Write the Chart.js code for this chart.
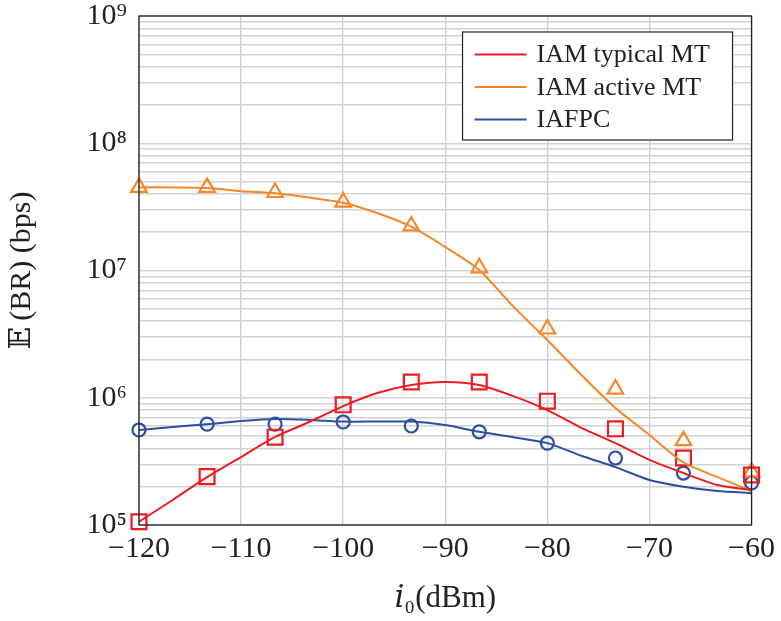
<!DOCTYPE html>
<html>
<head>
<meta charset="utf-8">
<script src="https://cdn.jsdelivr.net/npm/chart.js@4/dist/chart.umd.min.js"></script>
<style>
  html, body { margin: 0; padding: 0; background: #fff; }
  #wrap { width: 781px; height: 621px; }
</style>
</head>
<body>
<div id="wrap"><canvas id="rateChart"></canvas></div>
<script>
// x positions of the simulated marks and of the analytic curves (dBm)
const markX = [-120, -113.33, -106.67, -100, -93.33, -86.67, -80, -73.33, -66.67, -60];
const curveX = [-120, -116.67, -113.33, -110, -106.67, -103.33, -100, -96.67, -93.33, -90,
                -86.67, -83.33, -80, -76.67, -73.33, -70, -66.67, -63.33, -60];

// analytic curves (bps)
const typicalCurve = [1.06e5, 1.58e5, 2.38e5, 3.42e5, 4.92e5, 6.45e5, 8.6e5, 1.09e6, 1.26e6, 1.33e6,
                      1.26e6, 1.03e6, 8.0e5, 5.8e5, 4.4e5, 3.25e5, 2.56e5, 2.06e5, 1.88e5];
const activeCurve = [4.5e7, 4.5e7, 4.45e7, 4.2e7, 4.05e7, 3.75e7, 3.41e7, 2.83e7, 2.21e7, 1.53e7,
                     1.01e7, 5.2e6, 2.84e6, 1.51e6, 8.3e5, 5.1e5, 3.1e5, 2.38e5, 1.85e5];
const iafpcCurve = [5.58e5, 5.9e5, 6.2e5, 6.56e5, 6.8e5, 6.7e5, 6.5e5, 6.5e5, 6.5e5, 6.1e5,
                    5.4e5, 4.9e5, 4.4e5, 3.5e5, 2.85e5, 2.26e5, 2.0e5, 1.85e5, 1.78e5];

// simulated marks (bps)
const typicalMarks = [1.06e5, 2.4e5, 4.9e5, 8.8e5, 1.33e6, 1.33e6, 9.4e5, 5.7e5, 3.36e5, 2.47e5];
const activeMarks = [4.5e7, 4.5e7, 4.1e7, 3.45e7, 2.24e7, 1.05e7, 3.47e6, 1.17e6, 4.6e5, 2.6e5];
const iafpcMarks = [5.58e5, 6.2e5, 6.2e5, 6.45e5, 6.0e5, 5.4e5, 4.4e5, 3.36e5, 2.56e5, 2.14e5];

const seriesNames = ['IAM typical MT', 'IAM active MT', 'IAFPC'];
const decades = [1e5, 1e6, 1e7, 1e8, 1e9];
const decadeLabels = ['10\u2075', '10\u2076', '10\u2077', '10\u2078', '10\u2079'];

const RED = '#ec1c24', ORANGE = '#f7862b', BLUE = '#2c4fa1';
const SERIF = "'Liberation Serif', 'DejaVu Serif', serif";

function pts(xs, ys) {
  return xs.map((x, i) => ({ x: x, y: ys[i] }));
}

function curve(label, ys, color) {
  return {
    label: label,
    data: pts(curveX, ys),
    showLine: true,
    borderColor: color,
    borderWidth: 2,
    pointRadius: 0,
    tension: 0.25,
    isCurve: true
  };
}

function marks(label, ys, color, style, r) {
  return {
    label: label,
    data: pts(markX, ys),
    showLine: false,
    borderColor: color,
    backgroundColor: 'rgba(0,0,0,0)',
    pointBorderColor: color,
    pointBackgroundColor: 'rgba(0,0,0,0)',
    pointBorderWidth: 2.2,
    pointStyle: style,
    pointRadius: r,
    clip: false
  };
}

// frame round the plot area, like the pgfplots box
const frame = {
  id: 'frame',
  afterDatasetsDraw(chart) {
    const { ctx, chartArea: a } = chart;
    ctx.save();
    ctx.strokeStyle = '#222';
    ctx.lineWidth = 1.3;
    ctx.strokeRect(a.left, a.top, a.right - a.left, a.bottom - a.top);
    ctx.restore();
  }
};

// boxed legend in the top right corner, curves only
const boxLegend = {
  id: 'boxLegend',
  afterDraw(chart) {
    const { ctx, chartArea: a } = chart;
    const w = 270, h = 108;
    const x = a.right - 19 - w, y = a.top + 16;
    ctx.save();
    ctx.fillStyle = '#fff';
    ctx.fillRect(x, y, w, h);
    ctx.strokeStyle = '#222';
    ctx.lineWidth = 1.2;
    ctx.strokeRect(x, y, w, h);
    ctx.font = '26px ' + SERIF;
    ctx.textBaseline = 'middle';
    const curves = chart.data.datasets.filter(d => d.isCurve);
    curves.forEach((d, i) => {
      const rowY = y + 22.5 + i * 32.5;
      ctx.strokeStyle = d.borderColor;
      ctx.lineWidth = 2;
      ctx.beginPath();
      ctx.moveTo(x + 12, rowY);
      ctx.lineTo(x + 64, rowY);
      ctx.stroke();
      ctx.fillStyle = '#222';
      ctx.fillText(d.label, x + 74, rowY + 1);
    });
    ctx.restore();
  }
};

const ctx = document.getElementById('rateChart').getContext('2d');
new Chart(ctx, {
  type: 'scatter',
  data: {
    datasets: [
      curve(seriesNames[0], typicalCurve, RED),
      curve(seriesNames[1], activeCurve, ORANGE),
      curve(seriesNames[2], iafpcCurve, BLUE),
      marks(seriesNames[0], typicalMarks, RED, 'rect', 10.5),
      marks(seriesNames[1], activeMarks, ORANGE, 'triangle', 9),
      marks(seriesNames[2], iafpcMarks, BLUE, 'circle', 6.5)
    ]
  },
  options: {
    responsive: true,
    maintainAspectRatio: false,
    animation: false,
    layout: { padding: { top: 16, right: 29, left: 0, bottom: 0 } },
    plugins: {
      legend: { display: false },
      tooltip: { enabled: false }
    },
    scales: {
      x: {
        type: 'linear',
        min: -120,
        max: -60,
        border: { display: false },
        grid: { color: '#cfcfcf', lineWidth: 1.4, drawTicks: false },
        ticks: {
          stepSize: 10,
          padding: 6,
          color: '#222',
          font: { family: SERIF, size: 30 },
          callback: v => String(v).replace('-', '\u2212')
        },
        title: {
          display: true,
          text: '\uD835\uDC56\u2080(dBm)',
          color: '#222',
          font: { family: SERIF, size: 31 }
        },
        afterFit: s => { s.height = 96; }
      },
      y: {
        type: 'logarithmic',
        min: 1e5,
        max: 1e9,
        border: { display: false },
        grid: { color: '#d2d2d2', lineWidth: 1.4, drawTicks: false },
        afterBuildTicks: s => {
          const t = [];
          for (let k = 0; k < decades.length - 1; k++) {
            for (let m = 1; m < 10; m++) t.push({ value: decades[k] * m });
          }
          t.push({ value: decades[decades.length - 1] });
          s.ticks = t;
        },
        ticks: {
          autoSkip: false,
          padding: 12,
          color: '#222',
          font: { family: SERIF, size: 30 },
          callback: v => {
            const i = decades.findIndex(d => Math.abs(d - v) / d < 1e-6);
            return i >= 0 ? decadeLabels[i] : '';
          }
        },
        title: {
          display: true,
          text: '\uD835\uDD3C\u2009(BR) (bps)',
          color: '#222',
          font: { family: SERIF, size: 30 }
        },
        afterFit: s => {
          s.width = 139;
          s.paddingTop = 0;
          s.paddingBottom = 0;
        }
      }
    }
  },
  plugins: [frame, boxLegend]
});
</script>
</body>
</html>
